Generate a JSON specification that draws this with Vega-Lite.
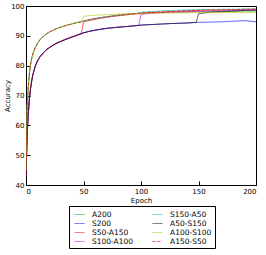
{
  "$schema": "https://vega.github.io/schema/vega-lite/v6.json",
  "autosize": {"type": "none"},
  "padding": {"left": 26, "top": 6, "right": 10, "bottom": 70},
  "width": 230,
  "height": 179,
  "background": "white",
  "data": {"values": [
    {"e":0,"A200":45,"S200":43,"S50-A150":43,"S100-A100":43,"S150-A50":45,"A50-S150":43,"A100-S100":45,"A150-S50":45},
    {"e":1,"A200":66,"S200":57,"S50-A150":57,"S100-A100":57,"S150-A50":66,"A50-S150":57,"A100-S100":66,"A150-S50":66},
    {"e":2,"A200":73,"S200":64,"S50-A150":64,"S100-A100":64,"S150-A50":73,"A50-S150":64,"A100-S100":73,"A150-S50":73},
    {"e":3,"A200":77.5,"S200":69,"S50-A150":69,"S100-A100":69,"S150-A50":77.5,"A50-S150":69,"A100-S100":77.5,"A150-S50":77.5},
    {"e":4,"A200":80.5,"S200":72.5,"S50-A150":72.5,"S100-A100":72.5,"S150-A50":80.5,"A50-S150":72.5,"A100-S100":80.5,"A150-S50":80.5},
    {"e":5,"A200":82.5,"S200":75,"S50-A150":75,"S100-A100":75,"S150-A50":82.5,"A50-S150":75,"A100-S100":82.5,"A150-S50":82.5},
    {"e":6,"A200":84,"S200":77,"S50-A150":77,"S100-A100":77,"S150-A50":84,"A50-S150":77,"A100-S100":84,"A150-S50":84},
    {"e":8,"A200":86,"S200":79.8,"S50-A150":79.8,"S100-A100":79.8,"S150-A50":86,"A50-S150":79.8,"A100-S100":86,"A150-S50":86},
    {"e":10,"A200":87.5,"S200":81.6,"S50-A150":81.6,"S100-A100":81.6,"S150-A50":87.5,"A50-S150":81.6,"A100-S100":87.5,"A150-S50":87.5},
    {"e":12,"A200":88.6,"S200":82.9,"S50-A150":82.9,"S100-A100":82.9,"S150-A50":88.6,"A50-S150":82.9,"A100-S100":88.6,"A150-S50":88.6},
    {"e":15,"A200":89.8,"S200":84.3,"S50-A150":84.3,"S100-A100":84.3,"S150-A50":89.8,"A50-S150":84.3,"A100-S100":89.8,"A150-S50":89.8},
    {"e":18,"A200":90.7,"S200":85.4,"S50-A150":85.4,"S100-A100":85.4,"S150-A50":90.7,"A50-S150":85.4,"A100-S100":90.7,"A150-S50":90.7},
    {"e":22,"A200":91.6,"S200":86.5,"S50-A150":86.5,"S100-A100":86.5,"S150-A50":91.6,"A50-S150":86.5,"A100-S100":91.6,"A150-S50":91.6},
    {"e":26,"A200":92.3,"S200":87.4,"S50-A150":87.4,"S100-A100":87.4,"S150-A50":92.3,"A50-S150":87.4,"A100-S100":92.3,"A150-S50":92.3},
    {"e":30,"A200":92.9,"S200":88.1,"S50-A150":88.1,"S100-A100":88.1,"S150-A50":92.9,"A50-S150":88.1,"A100-S100":92.9,"A150-S50":92.9},
    {"e":35,"A200":93.5,"S200":88.9,"S50-A150":88.9,"S100-A100":88.9,"S150-A50":93.5,"A50-S150":88.9,"A100-S100":93.5,"A150-S50":93.5},
    {"e":40,"A200":94.0,"S200":89.6,"S50-A150":89.6,"S100-A100":89.6,"S150-A50":94.0,"A50-S150":89.6,"A100-S100":94.0,"A150-S50":94.0},
    {"e":45,"A200":94.5,"S200":90.3,"S50-A150":90.3,"S100-A100":90.3,"S150-A50":94.5,"A50-S150":90.3,"A100-S100":94.5,"A150-S50":94.5},
    {"e":48,"A200":94.7,"S200":90.7,"S50-A150":90.7,"S100-A100":90.7,"S150-A50":94.7,"A50-S150":90.7,"A100-S100":94.7,"A150-S50":94.7},
    {"e":50,"A200":95.0,"S200":91.0,"S50-A150":94.6,"S100-A100":91.0,"S150-A50":95.0,"A50-S150":91.0,"A100-S100":96.5,"A150-S50":95.0},
    {"e":55,"A200":95.4,"S200":91.5,"S50-A150":95.1,"S100-A100":91.5,"S150-A50":95.4,"A50-S150":91.5,"A100-S100":96.8,"A150-S50":95.4},
    {"e":60,"A200":95.8,"S200":91.9,"S50-A150":95.5,"S100-A100":91.9,"S150-A50":95.8,"A50-S150":91.9,"A100-S100":96.9,"A150-S50":95.8},
    {"e":70,"A200":96.4,"S200":92.5,"S50-A150":96.2,"S100-A100":92.5,"S150-A50":96.4,"A50-S150":92.5,"A100-S100":97.1,"A150-S50":96.4},
    {"e":80,"A200":96.9,"S200":92.9,"S50-A150":96.7,"S100-A100":92.9,"S150-A50":96.9,"A50-S150":92.9,"A100-S100":97.3,"A150-S50":96.9},
    {"e":90,"A200":97.3,"S200":93.2,"S50-A150":97.1,"S100-A100":93.2,"S150-A50":97.3,"A50-S150":93.2,"A100-S100":97.4,"A150-S50":97.3},
    {"e":98,"A200":97.5,"S200":93.5,"S50-A150":97.4,"S100-A100":93.5,"S150-A50":97.6,"A50-S150":93.5,"A100-S100":97.5,"A150-S50":97.6},
    {"e":100,"A200":97.6,"S200":93.6,"S50-A150":97.5,"S100-A100":97.2,"S150-A50":97.9,"A50-S150":93.6,"A100-S100":97.5,"A150-S50":97.7},
    {"e":110,"A200":97.8,"S200":93.8,"S50-A150":97.8,"S100-A100":97.6,"S150-A50":98.2,"A50-S150":93.8,"A100-S100":97.6,"A150-S50":97.9},
    {"e":125,"A200":97.9,"S200":94.1,"S50-A150":98.1,"S100-A100":97.9,"S150-A50":98.5,"A50-S150":94.1,"A100-S100":97.7,"A150-S50":98.2},
    {"e":140,"A200":98.0,"S200":94.3,"S50-A150":98.4,"S100-A100":98.1,"S150-A50":98.7,"A50-S150":94.3,"A100-S100":97.7,"A150-S50":98.4},
    {"e":148,"A200":98.1,"S200":94.5,"S50-A150":98.5,"S100-A100":98.2,"S150-A50":98.8,"A50-S150":94.5,"A100-S100":97.8,"A150-S50":98.5},
    {"e":150,"A200":98.1,"S200":94.5,"S50-A150":98.5,"S100-A100":98.2,"S150-A50":98.8,"A50-S150":97.4,"A100-S100":97.8,"A150-S50":98.6},
    {"e":160,"A200":98.1,"S200":94.6,"S50-A150":98.6,"S100-A100":98.3,"S150-A50":98.8,"A50-S150":97.9,"A100-S100":97.8,"A150-S50":98.7},
    {"e":170,"A200":98.2,"S200":94.7,"S50-A150":98.7,"S100-A100":98.4,"S150-A50":98.9,"A50-S150":98.1,"A100-S100":97.8,"A150-S50":98.8},
    {"e":180,"A200":98.2,"S200":94.9,"S50-A150":98.8,"S100-A100":98.5,"S150-A50":98.9,"A50-S150":98.3,"A100-S100":97.8,"A150-S50":98.8},
    {"e":190,"A200":98.3,"S200":95.1,"S50-A150":98.8,"S100-A100":98.6,"S150-A50":99.0,"A50-S150":98.5,"A100-S100":97.8,"A150-S50":98.9},
    {"e":200,"A200":98.3,"S200":94.7,"S50-A150":98.9,"S100-A100":98.7,"S150-A50":99.0,"A50-S150":98.6,"A100-S100":97.8,"A150-S50":99.0}
  ]},
  "transform": [
    {"fold": ["A200","S200","S50-A150","S100-A100","S150-A50","A50-S150","A100-S100","A150-S50"], "as": ["series","acc"]}
  ],
  "mark": {"type": "line", "strokeWidth": 1, "opacity": 0.65, "clip": true},
  "encoding": {
    "x": {"field": "e", "type": "quantitative", "title": "Epoch",
          "scale": {"domain": [0, 200], "nice": false},
          "axis": {"values": [0, 50, 100, 150, 200], "format": "d"}},
    "y": {"field": "acc", "type": "quantitative", "title": "Accuracy",
          "scale": {"domain": [40, 100], "nice": false, "zero": false},
          "axis": {"values": [40, 50, 60, 70, 80, 90, 100], "titlePadding": 0}},
    "color": {"field": "series", "type": "nominal", "title": null,
              "scale": {"domain": ["A200","S200","S50-A150","S100-A100","S150-A50","A50-S150","A100-S100","A150-S50"],
                        "range": ["#009900","#0000ff","#ff0000","#bf00bf","#00bfbf","#000000","#bfbf00","#ff0000"]},
              "legend": {"orient": "none", "legendX": 43, "legendY": 200, "columns": 2,
                         "symbolType": "stroke", "symbolSize": 100, "symbolStrokeWidth": 1, "symbolOffset": 2,
                         "symbolOpacity": 0.65,
                         "fillColor": "white", "strokeColor": "black", "padding": 3,
                         "rowPadding": 0, "columnPadding": 16, "labelFontSize": 7.5,
                         "labelFont": "DejaVu Sans", "labelColor": "black", "labelOffset": 7}},
    "strokeDash": {"field": "series", "type": "nominal", "title": null,
                   "scale": {"domain": ["A200","S200","S50-A150","S100-A100","S150-A50","A50-S150","A100-S100","A150-S50"],
                             "range": [[1,0],[1,0],[1,0],[1,0],[1,0],[1,0],[1,0],[3,2]]}}
  },
  "config": {
    "view": {"stroke": "black", "strokeWidth": 1},
    "axis": {"grid": false, "domainColor": "black", "tickColor": "black", "tickSize": -4,
             "labelFont": "DejaVu Sans", "labelFontSize": 7, "labelColor": "black",
             "titleFont": "DejaVu Sans", "titleFontSize": 7, "titleFontWeight": "normal", "titleColor": "black",
             "labelPadding": 6, "titlePadding": 2}
  }
}
